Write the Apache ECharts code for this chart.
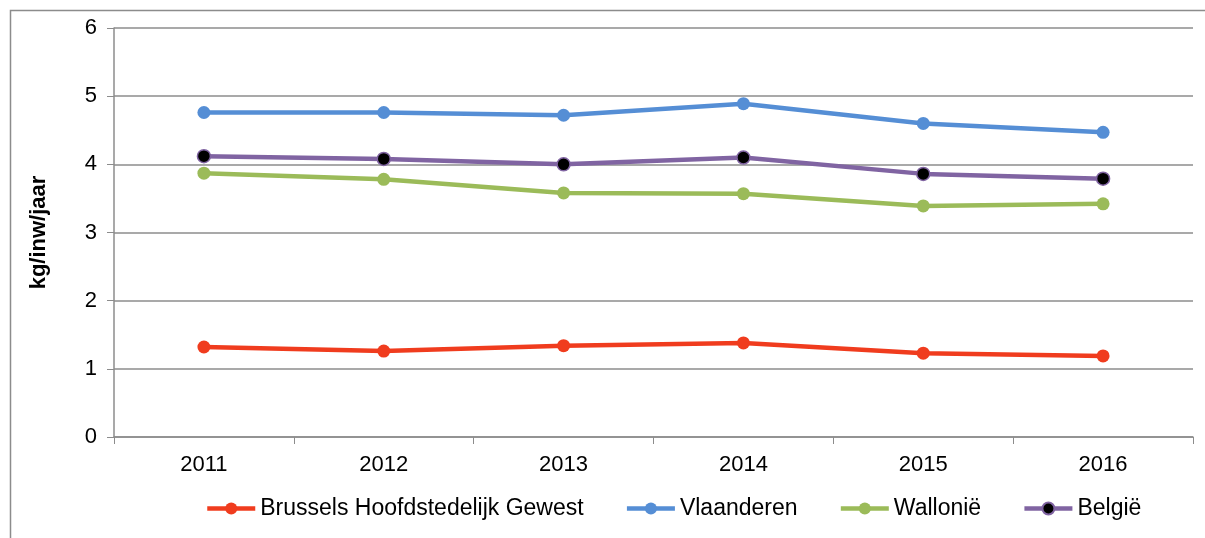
<!DOCTYPE html>
<html>
<head>
<meta charset="utf-8">
<script src="https://cdn.jsdelivr.net/npm/echarts@6/dist/echarts.min.js"></script>
<style>html,body{margin:0;padding:0;background:#fff}#c{width:1205px;height:538px}</style>
</head>
<body>
<div id="c"></div>
<script>
const years = ['2011', '2012', '2013', '2014', '2015', '2016'];
const brussels = [1.32, 1.26, 1.34, 1.38, 1.23, 1.19];
const vlaanderen = [4.76, 4.76, 4.72, 4.89, 4.60, 4.47];
const wallonie = [3.87, 3.78, 3.58, 3.57, 3.39, 3.42];
const belgie = [4.12, 4.08, 4.00, 4.10, 3.86, 3.79];
const yTicks = [0, 1, 2, 3, 4, 5, 6];

const font = 'Liberation Sans, Arial, sans-serif';
const chart = echarts.init(document.getElementById('c'), null, {renderer: 'canvas'});
function line(name, data, color, fill) {
  return {
    name: name, type: 'line', data: data,
    symbol: 'circle', symbolSize: 13,
    lineStyle: {color: color, width: 4.5},
    itemStyle: {color: fill || color, borderColor: color, borderWidth: fill ? 1.5 : 0},
    emphasis: {disabled: true}
  };
}
chart.setOption({
  animation: false,
  graphic: [{type: 'rect', shape: {x: 10.5, y: 10.5, width: 1200, height: 540}, style: {fill: 'none', stroke: '#8c8c8c', lineWidth: 1.5}, silent: true}],
  grid: {left: 114, right: 12, top: 28, bottom: 101},
  legend: {
    top: 497, left: 205, padding: 0, itemWidth: 48, itemHeight: 15, itemGap: 41,
    lineStyle: {width: 4.5},
    textStyle: {fontFamily: font, fontSize: 23, color: '#000'},
    data: ['Brussels Hoofdstedelijk Gewest', 'Vlaanderen', 'Wallonië', 'België']
  },
  xAxis: {
    type: 'category', data: years, boundaryGap: true,
    axisLine: {lineStyle: {color: '#8c8c8c', width: 1.5}},
    axisTick: {show: true, length: 7, lineStyle: {color: '#8c8c8c'}},
    axisLabel: {fontFamily: font, fontSize: 22, color: '#000', margin: 17},
    splitLine: {show: false}
  },
  yAxis: {
    type: 'value', min: yTicks[0], max: yTicks[yTicks.length - 1], interval: 1,
    name: 'kg/inw/jaar', nameLocation: 'middle', nameGap: 64, nameRotate: 90,
    nameTextStyle: {fontFamily: font, fontSize: 22, fontWeight: 'bold', color: '#000'},
    axisLine: {show: true, lineStyle: {color: '#8c8c8c', width: 1.5}},
    axisTick: {show: true, length: 7, lineStyle: {color: '#8c8c8c'}},
    axisLabel: {fontFamily: font, fontSize: 22, color: '#000', margin: 17},
    splitLine: {lineStyle: {color: '#8c8c8c', width: 1.5}}
  },
  series: [
    line('Brussels Hoofdstedelijk Gewest', brussels, '#f03c1e'),
    line('Vlaanderen', vlaanderen, '#558ed5'),
    line('Wallonië', wallonie, '#9bbb59'),
    line('België', belgie, '#8064a2', '#000')
  ]
});
</script>
</body>
</html>
